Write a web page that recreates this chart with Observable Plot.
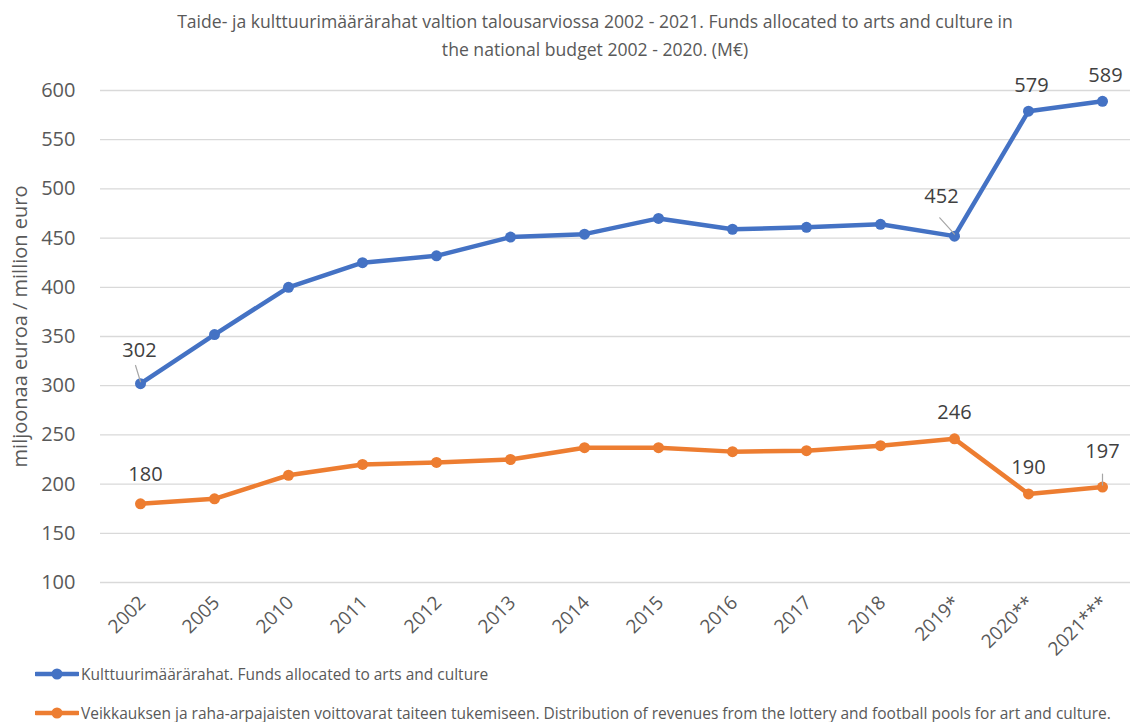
<!DOCTYPE html>
<html><head><meta charset="utf-8">
<script src="https://cdn.jsdelivr.net/npm/d3@7"></script>
<script src="https://cdn.jsdelivr.net/npm/@observablehq/plot@0.6"></script>
<style>
body{margin:0;background:#fff;font-family:"Open Sans",sans-serif;color:#595959;width:1130px;height:722px;overflow:hidden;position:relative}
#title{position:absolute;left:0;top:7px;width:1190px;text-align:center;font-size:17.6px;line-height:28px;color:#595959}
#chart{position:absolute;left:0;top:62px}
#legend{position:absolute;left:0;top:662px;width:1130px}
.li{position:absolute;left:35px;display:flex;align-items:center;font-size:15.5px;color:#595959;white-space:nowrap}
.li svg{margin-right:2px}
</style></head><body>
<div id="title">Taide- ja kulttuurimäärärahat valtion talousarviossa 2002 - 2021. Funds allocated to arts and culture in<br>the national budget 2002 - 2020. (M€)</div>
<div id="chart"></div>
<div id="legend"></div>
<script>
const years = ["2002","2005","2010","2011","2012","2013","2014","2015","2016","2017","2018","2019*","2020**","2021***"];
const funds = [302,352,400,425,432,451,454,470,459,461,464,452,579,589];
const lottery = [180,185,209,220,222,225,237,237,233,234,239,246,190,197];
const seriesNames = ["Kulttuurimäärärahat. Funds allocated to arts and culture","Veikkauksen ja raha-arpajaisten voittovarat taiteen tukemiseen. Distribution of revenues from the lottery and football pools for art and culture."];
const colors = ["#4472C4","#ED7D31"];
const yTicks = [100,150,200,250,300,350,400,450,500,550,600];
const labeledFunds = ["2002","2019*","2020**","2021***"];
const labeledLottery = ["2002","2019*","2020**","2021***"];

const rows = [];
years.forEach((y,i)=>{rows.push({year:y,value:funds[i],s:seriesNames[0]});rows.push({year:y,value:lottery[i],s:seriesNames[1]});});
const fundsRows = rows.filter(d=>d.s===seriesNames[0]);
const lotRows = rows.filter(d=>d.s===seriesNames[1]);
const pick = (arr, list) => arr.filter(d=>list.includes(d.year));
const fL = pick(fundsRows, labeledFunds);
const lL = pick(lotRows, labeledLottery);
const leader = {draw(ctx,l){ctx.moveTo(0,0);ctx.lineTo(0,-l);}};

const font = {fontSize:20, fill:"#404040"};
const chart = Plot.plot({
  width:1130, height:600,
  marginTop:28, marginBottom:80, marginLeft:100, marginRight:0,
  style:{fontFamily:"Open Sans, sans-serif", color:"#595959", background:"transparent", overflow:"visible"},
  x:{domain:years, type:"point", range:[100,1142], padding:0.5},
  y:{domain:[100,600], range:[520,28]},
  color:{domain:seriesNames, range:colors},
  marks:[
    Plot.gridY(yTicks,{stroke:"#d9d9d9", strokeOpacity:1, strokeWidth:1.3}),
    Plot.axisY(yTicks,{tickSize:0, tickPadding:25, fontSize:20, fill:"#595959", label:null}),
    Plot.axisX({tickSize:0, tickRotate:-45, tickPadding:17, fontSize:19, fill:"#595959", label:null, dx:2}),
    Plot.text(["miljoonaa euroa / million euro"],{frameAnchor:"left", textAnchor:"middle", rotate:-90, dx:-80, dy:-10, fontSize:20, fill:"#595959"}),
    Plot.line(rows,{x:"year", y:"value", z:"s", stroke:"s", strokeWidth:4.5, strokeLinejoin:"round", strokeLinecap:"round"}),
    Plot.dot(rows,{x:"year", y:"value", fill:"s", r:5.5}),
    // leader lines
    Plot.vector(fL.filter(d=>d.year==="2002"),{x:"year", y:"value", length:17, rotate:-17, anchor:"start", shape:leader, stroke:"#a6a6a6", strokeWidth:1.2, dy:-2}),
    Plot.vector(fL.filter(d=>d.year==="2019*"),{x:"year", y:"value", length:22, rotate:-42, anchor:"start", shape:leader, stroke:"#a6a6a6", strokeWidth:1.2, dy:-2}),
    Plot.vector(lL.filter(d=>d.year==="2021***"),{x:"year", y:"value", length:11, rotate:0, anchor:"start", shape:leader, stroke:"#a6a6a6", strokeWidth:1.2, dy:-2}),
    // labels
    Plot.text(fL.filter(d=>d.year==="2002"),{x:"year", y:"value", text:"value", dy:-33, dx:-1, ...font}),
    Plot.text(fL.filter(d=>d.year==="2019*"),{x:"year", y:"value", text:"value", dy:-40, dx:-13, ...font}),
    Plot.text(fL.filter(d=>d.year==="2020**"||d.year==="2021***"),{x:"year", y:"value", text:"value", dy:-26, dx:3, ...font}),
    Plot.text(lL.filter(d=>d.year==="2002"),{x:"year", y:"value", text:"value", dy:-29, dx:5, ...font}),
    Plot.text(lL.filter(d=>d.year==="2019*"||d.year==="2020**"),{x:"year", y:"value", text:"value", dy:-26, ...font}),
    Plot.text(lL.filter(d=>d.year==="2021***"),{x:"year", y:"value", text:"value", dy:-35, ...font})
  ]
});
document.getElementById("chart").appendChild(chart);

const leg = document.getElementById("legend");
seriesNames.forEach((n,i)=>{
  const d = document.createElement("div");
  d.className="li";
  d.style.top = (i===0 ? 1 : 40) + "px";
  d.innerHTML = `<svg width="44" height="20"><line x1="1" y1="10" x2="43" y2="10" stroke="${colors[i]}" stroke-width="4.5" stroke-linecap="round"/><circle cx="22" cy="10" r="5.5" fill="${colors[i]}"/></svg><span>${n}</span>`;
  leg.appendChild(d);
});
</script>
</body></html>
